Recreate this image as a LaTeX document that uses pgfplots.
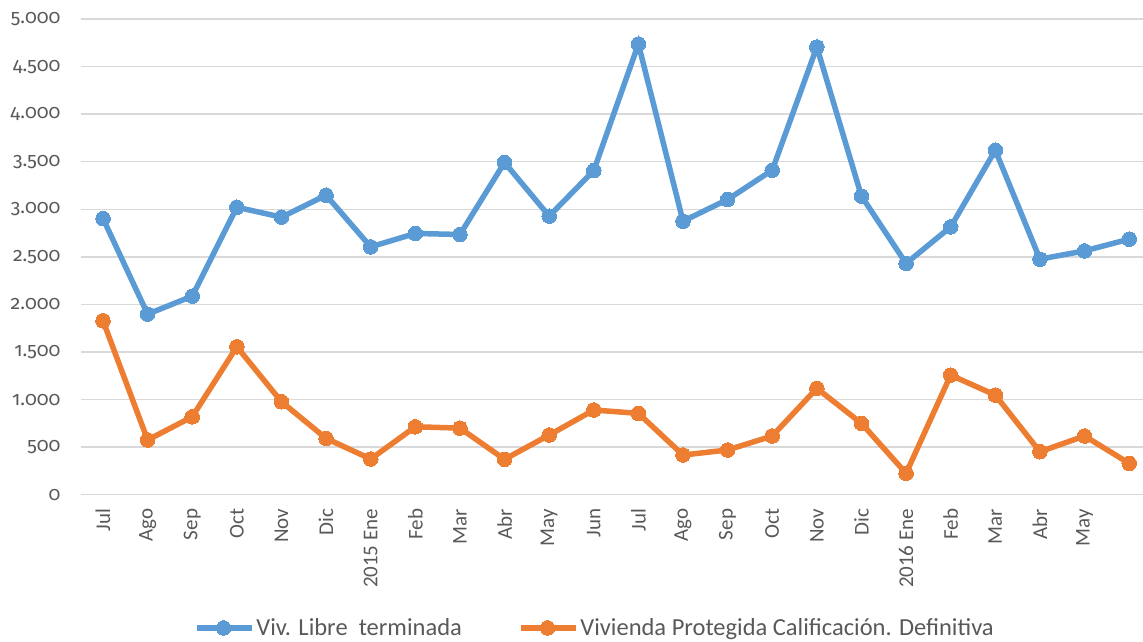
\documentclass[border=0pt]{standalone}
\usepackage{pgfplots}
\pgfplotsset{compat=1.18}
\usepackage{fontspec}
\setmainfont{Carlito}
\newfontfamily\numfont{Fira Sans}[Numbers=OldStyle]
\definecolor{cblue}{HTML}{5B9BD5}
\definecolor{corange}{HTML}{ED7D31}
\definecolor{ctext}{HTML}{595959}
\definecolor{cgrid}{HTML}{D9D9D9}
\pgfplotstableread{
x libre prot
0 2903 1828
1 1898 575
2 2087 819
3 3022 1555
4 2917 977
5 3148 592
6 2605 375
7 2746 714
8 2735 700
9 3492 372
10 2928 627
11 3407 890
12 4737 855
13 2875 417
14 3103 470
15 3411 617
16 4706 1118
17 3138 750
18 2431 225
19 2815 1257
20 3621 1047
21 2476 452
22 2563 617
23 2686 330
}\datatable
\begin{document}
\begin{tikzpicture}
\path[use as bounding box] (0,0) rectangle (1143pt,641pt);
\begin{axis}[
  at={(80.7pt,146.3pt)}, anchor=south west,
  scale only axis, width=1062.3pt, height=475.7pt,
  xmin=-0.5, xmax=23.31, ymin=0, ymax=5000,
  axis line style={draw=none},
  ymajorgrids, grid style={cgrid, line width=1.5pt},
  ytick={0,500,...,5000},
  xtick={0,...,23},
  xticklabels={Jul,Ago,Sep,Oct,Nov,Dic,2015 Ene,Feb,Mar,Abr,May,Jun,Jul,Ago,Sep,Oct,Nov,Dic,2016 Ene,Feb,Mar,Abr,May,{}},
  major tick length=0pt,
  scaled y ticks=false,
  /pgf/number format/.cd, 1000 sep={.}, assume math mode=true, /pgfplots/.cd,
  yticklabel style={font=\numfont\fontsize{19.5pt}{24pt}\selectfont, text=ctext, anchor=east, inner sep=0pt, xshift=-20pt},
  xticklabel style={font=\fontsize{21pt}{25pt}\selectfont, text=ctext, rotate=90, anchor=east, inner sep=0pt, yshift=0pt, xshift=-14pt},
  legend columns=2,
  legend style={at={(0.484,-0.280)}, anchor=center, draw=none, fill=none,
    font=\fontsize{24.5pt}{28pt}\selectfont, text=ctext,
    /tikz/every even column/.append style={column sep=54pt}, inner sep=0pt},
  legend image code/.code={\draw[mark repeat=2,mark phase=2,#1] plot coordinates {(0pt,0pt) (27pt,0pt) (55pt,0pt)};},
]
\addplot[cblue, line width=5.5pt, mark=*, mark size=7.3pt, mark options={line width=0pt}] table[x=x,y=libre]{\datatable};
\addlegendentry{Viv. Libre\ \ terminada}
\addplot[corange, line width=5.5pt, mark=*, mark size=7.3pt, mark options={line width=0pt}] table[x=x,y=prot]{\datatable};
\addlegendentry{Vivienda Protegida Calificación. Definitiva}
\end{axis}
\end{tikzpicture}
\end{document}
